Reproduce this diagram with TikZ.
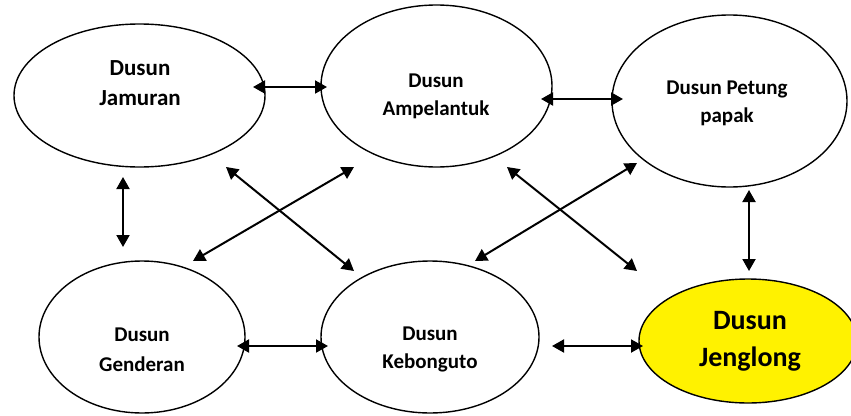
\documentclass[tikz,border=0pt]{standalone}
\usepackage{fontspec}
\setmainfont{Carlito}
\usetikzlibrary{shapes.geometric,arrows.meta}
\begin{document}
\begin{tikzpicture}[x=1pt,y=-1pt,
  dusun/.style={ellipse,draw,line width=1.4pt,inner sep=0pt},
  lbl/.style={align=center,font=\bfseries\fontsize{21}{28}\selectfont},
  link/.style={line width=2pt,{Triangle[length=12pt,width=13pt]}-{Triangle[length=12pt,width=13pt]}}]
\useasboundingbox (0,0) rectangle (851,415);
% ellipses
\node[dusun,minimum width=251pt,minimum height=143pt] (jam) at (139.5,95.5) {};
\node[dusun,minimum width=231pt,minimum height=162pt] (amp) at (436.5,86) {};
\node[dusun,minimum width=235pt,minimum height=172pt] (pet) at (729.5,101) {};
\node[dusun,minimum width=206pt,minimum height=152pt] (gen) at (142,337) {};
\node[dusun,minimum width=218pt,minimum height=152pt] (keb) at (430,337) {};
\node[dusun,fill=yellow,minimum width=218pt,minimum height=124pt] (jen) at (748,341) {};
% labels
\node[lbl,font=\bfseries\fontsize{23}{30}\selectfont] (tjam) at (140,83) {Dusun\\Jamuran};
\node[lbl] (tamp) at (436,96) {Dusun\\Ampelantuk};
\node[lbl] (tpet) at (727,103) {Dusun Petung\\papak};
\node[lbl,font=\bfseries\fontsize{21}{30}\selectfont] (tgen) at (142,350) {Dusun\\Genderan};
\node[lbl] (tkeb) at (430,349) {Dusun\\Kebonguto};
\node[lbl,font=\bfseries\fontsize{28}{37}\selectfont] (tjen) at (750,341.5) {Dusun\\Jenglong};
% arrow end points
\coordinate (a1) at (253,87);  \coordinate (b1) at (327,87);
\coordinate (a2) at (541,99);  \coordinate (b2) at (623,99);
\coordinate (a3) at (123,177); \coordinate (b3) at (123,247);
\coordinate (a4) at (226,167); \coordinate (b4) at (354,271);
\coordinate (a5) at (354,167); \coordinate (b5) at (193,261);
\coordinate (a6) at (507,167); \coordinate (b6) at (637,271);
\coordinate (a7) at (637,163); \coordinate (b7) at (475,261);
\coordinate (a8) at (749,190); \coordinate (b8) at (749,271);
\coordinate (a9) at (237,346); \coordinate (b9) at (328,346);
\coordinate (a10) at (552,346); \coordinate (b10) at (643,346);
% connectors
\draw[link] (a1) -- (b1);
\draw[link] (a2) -- (b2);
\draw[link] (a3) -- (b3);
\draw[link] (a4) -- (b4);
\draw[link] (a5) -- (b5);
\draw[link] (a6) -- (b6);
\draw[link] (a7) -- (b7);
\draw[link] (a8) -- (b8);
\draw[link] (a9) -- (b9);
\draw[link] (a10) -- (b10);
\end{tikzpicture}
\end{document}
